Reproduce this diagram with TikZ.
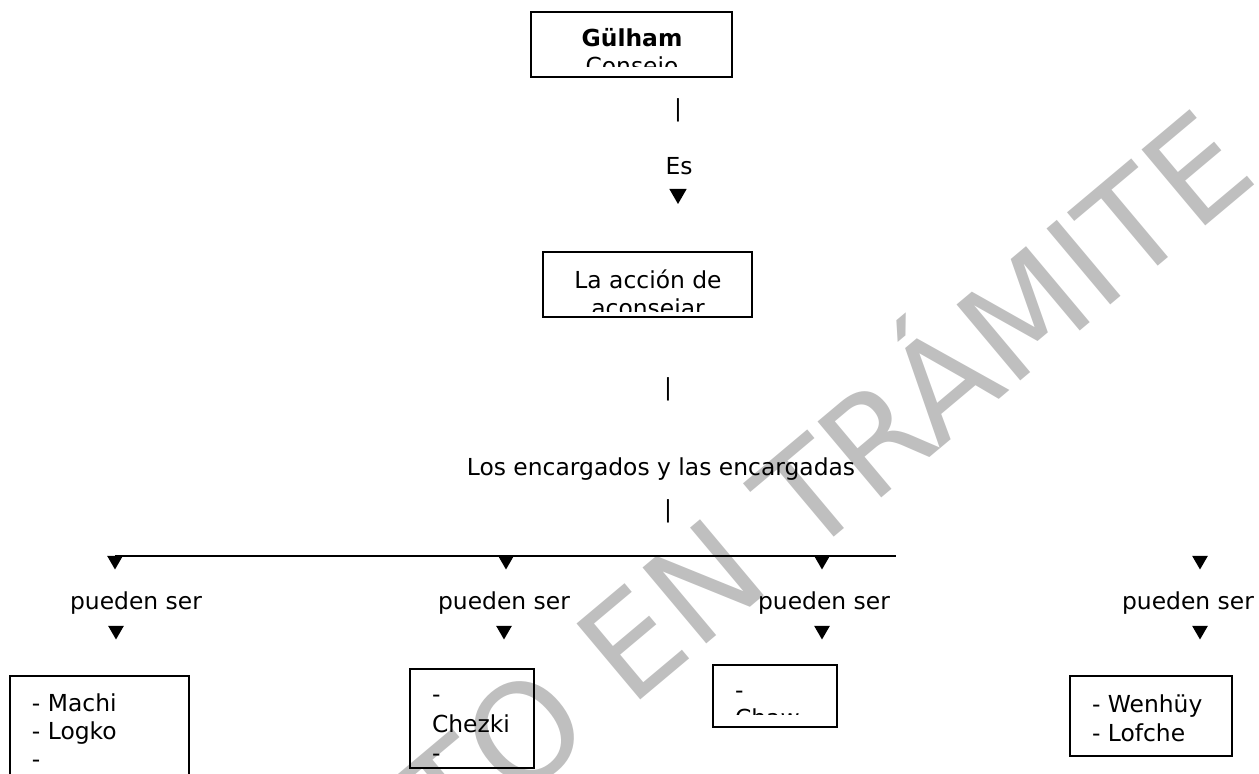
\documentclass[tikz,border=0pt]{standalone}
\usepackage{fontspec}
\setmainfont{DejaVu Sans}
\usetikzlibrary{shapes.geometric}

\begin{document}
\begin{tikzpicture}[x=0.5pt, y=-0.5pt,
    every node/.style={font=\fontsize{11.7}{14}\selectfont, inner sep=0, outer sep=0},
    box/.style={draw, line width=0.8pt, anchor=north west},
    lbl/.style={anchor=base},
    item/.style={anchor=base west},
    tri/.style={fill, regular polygon, regular polygon sides=3, shape border rotate=180, minimum size=9pt, anchor=north}]
    \useasboundingbox (0,0) rectangle (1259,774);

    % marca de agua
    \node[text=black!25, font=\fontsize{68}{68}\selectfont, rotate=40, anchor=east] (marca) at (1221,132) {PROYECTO EN TRÁMITE};

    % cajas
    \node[box, minimum width=100.5pt, minimum height=32.5pt] (gulham) at (531,12) {};
    \node[box, minimum width=104.5pt, minimum height=32.5pt] (accion) at (543,252) {};
    \node[box, minimum width=89.5pt, minimum height=60pt] (machi) at (10,676) {};
    \node[box, minimum width=62pt, minimum height=49.5pt] (chezki) at (410,669) {};
    \node[box, minimum width=62pt, minimum height=31pt] (chaw) at (713,665) {};
    \node[box, minimum width=81pt, minimum height=40pt] (wenhuy) at (1070,676) {};

    \begin{scope}
        \clip (gulham.north west) rectangle (732,67);
        \node[lbl] (t-gulham) at (632,47) {\bfseries Gülham};
        \node[lbl] (t-consejo) at (632,75) {Consejo};
    \end{scope}
    \begin{scope}
        \clip (accion.north west) rectangle (752,312);
        \node[lbl] (t-accion) at (648,289) {La acción de};
        \node[lbl] (t-aconsejar) at (648,317) {aconsejar};
    \end{scope}
    \node[item] (m1) at (32,712) {- Machi};
    \node[item] (m2) at (32,740) {- Logko};
    \node[item] (m3) at (32,768) {-};
    \begin{scope}
        \clip (chezki.north west) rectangle (534,766);
        \node[item] (c1) at (432,703) {-};
        \node[item] (c2) at (432,733) {Chezki};
        \node[item] (c3) at (432,762) {-};
    \end{scope}
    \begin{scope}
        \clip (chaw.north west) rectangle (837,715);
        \node[item] (w1) at (735,699) {-};
        \node[item] (w2) at (735,727) {Chaw};
    \end{scope}
    \node[item] (l1) at (1092,713) {- Wenhüy};
    \node[item] (l2) at (1092,742) {- Lofche};

    % textos intermedios
    \node[lbl] (bar1) at (678,117) {|};
    \node[lbl] (es) at (679,175) {Es};
    \node[tri, minimum size=10pt] (tes) at (678,189) {};
    \node[lbl] (bar2) at (668,396) {|};
    \node[lbl] (encargados) at (661,476) {Los encargados y las encargadas};
    \node[lbl] (bar3) at (668,518) {|};

    % ramas
    \coordinate (fin) at (896,556);
    \node[tri] (a1) at (115,556) {};
    \node[tri] (a2) at (506,556) {};
    \node[tri] (a3) at (822,556) {};
    \node[tri] (a4) at (1200,556) {};
    \draw[line width=0.8pt] (a1.north) -- (fin);

    \node[lbl] (p1) at (136,610) {pueden ser};
    \node[lbl] (p2) at (504,610) {pueden ser};
    \node[lbl] (p3) at (824,610) {pueden ser};
    \node[lbl] (p4) at (1188,610) {pueden ser};

    \node[tri] (b1) at (116,626) {};
    \node[tri] (b2) at (504,626) {};
    \node[tri] (b3) at (822,626) {};
    \node[tri] (b4) at (1200,626) {};
\end{tikzpicture}
\end{document}
